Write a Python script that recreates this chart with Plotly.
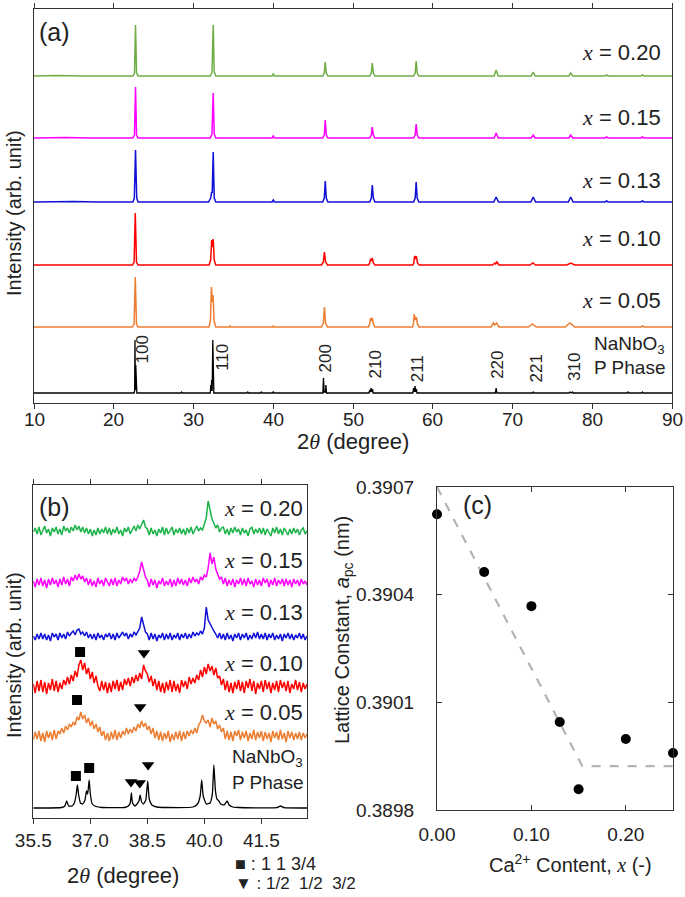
import plotly.graph_objects as go

W, H = 685, 897
FONT = "Liberation Sans, Arial, sans-serif"
TXT = "#222222"

# ---------------- Panel (a): XRD patterns 10-90 deg (height above own baseline) -------------
A_LABELS = ["x = 0.20", "x = 0.15", "x = 0.13", "x = 0.10", "x = 0.05"]
A_COLORS = ["#70ad47", "#ff00ff", "#1010d8", "#ff0000", "#ed7d31", "#000000"]
A_OFFSETS = [327, 265, 201, 138, 76, 10]
A_TICKS = [10, 20, 30, 40, 50, 60, 70, 80, 90]

A_020 = [(10, 0), (13, 0.5), (16, 0), (22.4, 0), (22.6, 3), (22.73, 51), (22.86, 3), (23.05, 0),
         (32.1, 0), (32.32, 4), (32.47, 51), (32.6, 4), (32.8, 0), (39.85, 0), (40.0, 2), (40.15, 0),
         (46.2, 0), (46.4, 3), (46.52, 14), (46.65, 3), (46.85, 0), (52.1, 0), (52.3, 3), (52.42, 13),
         (52.55, 3), (52.75, 0), (57.6, 0), (57.8, 3), (57.92, 15), (58.05, 3), (58.25, 0),
         (67.7, 0), (67.95, 6), (68.2, 0), (72.35, 0), (72.6, 4), (72.85, 0), (77.05, 0), (77.3, 3),
         (77.55, 0), (81.6, 0), (81.8, 1), (82.0, 0), (86.1, 0), (86.3, 1), (86.5, 0), (90, 0)]
A_015 = [(10, 0), (14, 0.5), (17, 0), (22.4, 0), (22.6, 3), (22.73, 51), (22.86, 3), (23.05, 0),
         (32.1, 0), (32.32, 4), (32.47, 45), (32.6, 4), (32.8, 0), (39.85, 0), (40.0, 2), (40.15, 0),
         (46.2, 0), (46.4, 3), (46.52, 18), (46.65, 3), (46.85, 0), (52.1, 0), (52.3, 3), (52.42, 11),
         (52.55, 3), (52.75, 0), (57.6, 0), (57.8, 3), (57.92, 14), (58.05, 3), (58.25, 0),
         (67.7, 0), (67.95, 5), (68.2, 0), (72.35, 0), (72.6, 3), (72.85, 0), (77.05, 0), (77.3, 3),
         (77.55, 0), (81.6, 0), (81.8, 1), (82.0, 0), (86.1, 0), (86.3, 1), (86.5, 0), (90, 0)]
A_013 = [(10, 0), (15, 0.5), (18, 0), (22.4, 0), (22.58, 4), (22.73, 52), (22.88, 4), (23.05, 0),
         (31.9, 0), (32.15, 4), (32.27, 10), (32.35, 9), (32.47, 50), (32.6, 4), (32.8, 0),
         (39.85, 0), (40.0, 2), (40.15, 0),
         (46.2, 0), (46.4, 4), (46.52, 21), (46.65, 4), (46.85, 0), (52.1, 0), (52.3, 4), (52.42, 17),
         (52.55, 4), (52.75, 0), (57.6, 0), (57.8, 4), (57.92, 20), (58.05, 4), (58.25, 0),
         (67.65, 0), (67.95, 5), (68.25, 0), (72.3, 0), (72.6, 5), (72.9, 0), (77.0, 0), (77.3, 5),
         (77.6, 0), (81.6, 0), (81.8, 1), (82.0, 0), (86.1, 0), (86.3, 1), (86.5, 0), (90, 0)]
A_010 = [(10, 0), (22.35, 0), (22.55, 3), (22.7, 52), (22.85, 3), (23.05, 0),
         (31.95, 0), (32.15, 5), (32.28, 25), (32.38, 18), (32.47, 26), (32.6, 5), (32.8, 0),
         (46.05, 0), (46.28, 3), (46.42, 13), (46.56, 3), (46.8, 0),
         (51.95, 0), (52.1, 2), (52.2, 6), (52.3, 4), (52.42, 7), (52.55, 2), (52.75, 0),
         (57.5, 0), (57.62, 2), (57.72, 9), (57.84, 6), (57.95, 9), (58.08, 2), (58.3, 0),
         (67.5, 0), (67.8, 2), (67.9, 1), (68.05, 3), (68.3, 0), (72.2, 0), (72.55, 2), (72.9, 0),
         (76.8, 0), (77.3, 2), (77.8, 0), (90, 0)]
A_005 = [(10, 0), (22.35, 0), (22.55, 3), (22.7, 50), (22.85, 3), (23.05, 0),
         (31.95, 0), (32.12, 6), (32.25, 40), (32.35, 25), (32.45, 32), (32.58, 6), (32.8, 0),
         (34.5, 0), (34.6, 1), (34.7, 0), (39.9, 0), (40.0, 1), (40.1, 0),
         (46.05, 0), (46.28, 4), (46.42, 20), (46.56, 4), (46.8, 0),
         (51.95, 0), (52.08, 3), (52.2, 9), (52.3, 6), (52.42, 9), (52.55, 3), (52.75, 0),
         (57.45, 0), (57.58, 3), (57.68, 13), (57.8, 7), (57.95, 10), (58.08, 3), (58.3, 0),
         (67.3, 0), (67.6, 4), (67.75, 2), (68.0, 4), (68.3, 0), (72.0, 0), (72.5, 3), (73.0, 0),
         (76.6, 0), (77.2, 4), (77.8, 0), (86.1, 0), (86.3, 1), (86.5, 0), (90, 0)]
A_REF = [(10, 0), (22.55, 0), (22.62, 2), (22.66, 53), (22.71, 3), (22.76, 28), (22.82, 1), (22.9, 0),
         (28.4, 0), (28.5, 1), (28.6, 0), (32.1, 0), (32.17, 8), (32.22, 2), (32.28, 13), (32.34, 2),
         (32.42, 53), (32.48, 1), (32.55, 0), (36.7, 0), (36.8, 1), (36.9, 0), (38.4, 0), (38.5, 1),
         (38.6, 0), (39.9, 0), (40.0, 1.5), (40.1, 0),
         (46.22, 0), (46.3, 15), (46.38, 1), (46.55, 1), (46.6, 8), (46.67, 0),
         (52.0, 0), (52.1, 3), (52.18, 1), (52.28, 5), (52.36, 1), (52.45, 4), (52.52, 0),
         (57.5, 0), (57.6, 5), (57.68, 1), (57.78, 7), (57.86, 1), (57.95, 4), (58.02, 0),
         (67.85, 0), (67.95, 5), (68.05, 0), (72.5, 0), (72.6, 1), (72.7, 0), (77.1, 0), (77.2, 1),
         (77.3, 0), (77.4, 0), (77.5, 1), (77.6, 0), (84.4, 0), (84.5, 1), (84.6, 0), (86.2, 0),
         (86.3, 1), (86.4, 0), (90, 0)]
A_PATTERNS = [A_020, A_015, A_013, A_010, A_005, A_REF]

MILLER = ["100", "110", "200", "210", "211", "220", "221", "310"]
MILLER_X = [23.6, 33.55, 46.55, 52.7, 58.05, 68.1, 73.0, 77.7]
MILLER_Y = [54, 46, 45, 38, 34, 38.5, 35, 36]

# ---------------- Panel (b): zoom 35.5-42.7 deg (step 0.05 deg) ----------------
B_X0, B_STEP = 35.5, 0.05
B_020 = [0, 4, -2, 5, -3, 2, 6, -1, 3, -4, 4, 0, 5, -2, 3, -3, 6, 1, 4, -1,
         5, 1, 7, 2, 6, 0, 5, -1, 4, -2, 3, -4, 2, -3, 4, -2, 3, -1, 5, -2,
         4, -3, 3, -1, 5, -2, 2, -4, 4, 0, 5, -2, 3, 6, 1, 7, 3, 8, 12, 5,
         3, -3, 4, -2, 2, -4, 3, -1, 5, -3, 4, -2, 2, 5, -3, 3, -1, 4, -2, 3,
         -3, 4, -1, 5, -2, 3, 6, 1, 4, 2, 7, 14, 31, 20, 13, 9, 4, 7, 0, 4,
         5, -2, 3, -3, 4, -1, 5, 0, 3, -3, 4, -1, 2, -4, 3, 5, -2, 3, -1, 4,
         -2, 4, -3, 3, 0, -4, 4, -1, 5, -2, 3, -3, 4, 0, -3, 3, -2, 4, -1, 3,
         -3, 2, 4, -2, 1]
B_015 = [2, -4, 4, -2, 5, -3, 3, -5, 4, -2, 5, -1, 3, -4, 4, -2, 6, -1, 4, -3,
         6, 2, 8, 3, 9, 4, 7, 1, 5, -2, 4, -3, 2, -4, 5, -1, 3, -3, 5, 0,
         -3, 4, -2, 5, -3, 3, -1, 6, 2, 5, -1, 4, 0, 5, 2, 6, 12, 21, 13, 6,
         3, -4, 4, -2, 3, -5, 2, -1, 5, -3, 2, -2, 4, -4, 3, -3, 5, -1, 4, -2,
         3, -3, 5, 0, 6, 1, 4, -1, 6, 3, 8, 6, 15, 30, 19, 26, 14, 9, 4, 6,
         -1, 5, -3, 3, -2, 4, -4, 3, -1, 5, -2, 4, -3, 5, -1, 2, -4, 4, -2, 3,
         -3, 5, 0, 4, -4, 3, -2, 5, -3, 3, -1, 4, -3, 4, -2, 3, -4, 4, -1, 3,
         -3, 4, -1, 2, -2]
B_013 = [1, -3, 3, -2, 4, -2, 3, -3, 2, -4, 4, 0, 3, -3, 4, -1, 3, -2, 5, 1,
         4, 6, 2, 7, 8, 3, 5, 1, 5, -1, 3, -2, 3, -3, 4, -1, 2, -3, 3, 0,
         4, -2, 3, -3, 4, -1, 2, 5, 1, 4, -2, 3, 0, 5, 2, 6, 9, 20, 13, 5,
         3, -3, 4, -2, 3, -4, 2, -1, 4, -3, 3, -2, 4, -3, 2, -1, 4, -3, 3, -1,
         4, -2, 3, -1, 5, 1, 4, 2, 6, 3, 9, 30, 17, 13, 9, 6, 3, -1, 4, -2,
         3, -3, 4, -2, 2, -4, 3, -1, 4, -3, 3, -1, 4, -3, 2, -2, 4, -1, 5, -2,
         3, -2, 4, -3, 3, -1, 4, -3, 2, -2, 3, -4, 3, -1, 4, -2, 3, -3, 2, -1,
         4, -2, 3, -3, 1]
B_010 = [3, -6, 6, -4, 7, -5, 5, -7, 4, -3, 8, -4, 6, -5, 4, -2, 7, 2, 10, 3,
         12, 6, 16, 10, 22, 27, 17, 24, 13, 19, 8, 15, 4, 11, 1, -4, 6, -3, 5, -6,
         4, -5, 6, -2, 7, -4, 5, -3, 8, 2, 9, 1, 10, 4, 12, 6, 14, 8, 22, 16,
         13, 5, 11, 1, 8, -3, 6, -5, 4, -6, 5, -3, 7, -5, 6, -4, 3, -6, 7, 0,
         6, -2, 10, 3, 9, 4, 12, 7, 17, 10, 20, 13, 23, 16, 21, 12, 19, 9, 11, 2,
         8, -3, 6, -5, 4, -6, 5, -2, 7, -4, 5, -6, 6, -1, 8, -4, 6, -7, 4, -2,
         6, -5, 7, -2, 5, -6, 4, -3, 6, -5, 7, -1, 5, -4, 6, -6, 3, -2, 7, -3,
         5, -5, 4, -2, 3]
B_005 = [-3, 5, -2, 6, -4, 4, -5, 6, -1, 5, -3, 7, -2, 6, 3, 9, 4, 11, 7, 13,
         10, 15, 12, 20, 17, 25, 18, 22, 14, 19, 11, 16, 8, 13, 5, 10, 1, 6, -3, 4,
         -4, 5, -2, 7, -3, 5, -1, 6, 2, 9, 3, 8, 4, 10, 6, 13, 9, 16, 10, 14,
         7, 11, 3, 9, -1, 6, -3, 5, -4, 4, -2, 6, -5, 3, -3, 5, -2, 6, -4, 5,
         -2, 6, 1, 7, 3, 9, 4, 12, 15, 22, 16, 14, 17, 10, 19, 13, 16, 8, 12, 5,
         9, -2, 6, -3, 5, -4, 6, 1, 7, -3, 5, -1, 6, -4, 4, -2, 7, -3, 5, -1,
         6, -4, 5, -2, 4, -5, 6, -1, 5, -3, 7, -2, 4, -5, 6, -1, 5, -3, 4, -2,
         5, -3, 4, -1, 3]
B_REF = [(35.5, 0), (36.25, 0.5), (36.33, 2), (36.38, 7), (36.43, 2), (36.52, 2), (36.58, 5),
         (36.63, 14), (36.66, 23), (36.69, 14), (36.74, 5), (36.8, 4), (36.86, 8), (36.9, 17),
         (36.93, 14), (36.97, 28), (37.0, 14), (37.05, 4), (37.15, 1.5), (37.3, 0.5), (37.9, 0.5),
         (38.0, 2), (38.05, 5), (38.08, 15), (38.11, 5), (38.17, 2), (38.23, 4), (38.28, 7),
         (38.31, 13), (38.35, 6), (38.4, 4), (38.46, 8), (38.51, 27), (38.55, 9), (38.62, 3),
         (38.75, 1), (39.0, 0.5), (39.7, 1), (39.82, 4), (39.89, 12), (39.93, 28), (39.97, 12),
         (40.05, 4), (40.15, 5), (40.21, 14), (40.25, 43), (40.29, 18), (40.33, 9), (40.38, 7),
         (40.43, 4), (40.52, 3), (40.6, 7), (40.65, 3), (40.75, 1), (40.9, 0.5), (41.9, 0.3),
         (42.0, 2), (42.1, 0.3), (42.7, 0)]
B_PATTERNS = [B_020, B_015, B_013, B_010, B_005]
B_COLORS = ["#1db34b", "#ff00ff", "#1010d8", "#ff0000", "#ed7d31"]
B_OFFSETS = [286, 235, 181, 131, 81, 10]
B_LABEL_Y = [310, 258, 206, 155, 106]

SQ_X = [36.62, 36.97, 36.73, 36.65]
SQ_Y = [42, 50, 166, 118]
TRI_X = [38.07, 38.30, 38.52, 38.41, 38.31]
TRI_Y = [36, 35, 53, 165, 111]

# ---------------- Panel (c): lattice constant ----------------
CA_X = [0.00, 0.05, 0.10, 0.13, 0.15, 0.20, 0.25]
A_PC = [0.390624, 0.390463, 0.390368, 0.390045, 0.389858, 0.389998, 0.389959]
FIT_X = [0.0, 0.154, 0.25]
FIT_Y = [0.3907, 0.389922, 0.389922]

fig = go.Figure()

# panel (a)
for pat, col, off in zip(A_PATTERNS, A_COLORS, A_OFFSETS):
    xs = [p[0] for p in pat]
    ys = [p[1] + off for p in pat]
    fig.add_trace(go.Scatter(x=xs, y=ys, mode="lines", line=dict(color=col, width=1.5 if col != "#000000" else 1.3),
                             xaxis="x", yaxis="y", showlegend=False, hoverinfo="skip"))

# panel (b)
bx = [round(B_X0 + i * B_STEP, 3) for i in range(len(B_020))]
for vals, col, off in zip(B_PATTERNS, B_COLORS, B_OFFSETS):
    fig.add_trace(go.Scatter(x=bx, y=[v + off for v in vals], mode="lines", line=dict(color=col, width=1.5),
                             xaxis="x2", yaxis="y2", showlegend=False, hoverinfo="skip"))
fig.add_trace(go.Scatter(x=[p[0] for p in B_REF], y=[p[1] + B_OFFSETS[5] for p in B_REF], mode="lines",
                         line=dict(color="#000000", width=1.3, shape="spline", smoothing=0.4),
                         xaxis="x2", yaxis="y2", showlegend=False, hoverinfo="skip"))
fig.add_trace(go.Scatter(x=SQ_X, y=SQ_Y, mode="markers", marker=dict(symbol="square", size=10, color="black"),
                         xaxis="x2", yaxis="y2", showlegend=False, hoverinfo="skip"))
fig.add_trace(go.Scatter(x=TRI_X, y=TRI_Y, mode="markers",
                         marker=dict(symbol="triangle-down", size=11, color="black"),
                         xaxis="x2", yaxis="y2", showlegend=False, hoverinfo="skip"))

# panel (c)
fig.add_trace(go.Scatter(x=FIT_X, y=FIT_Y, mode="lines", line=dict(color="#b4b4b4", width=2.2, dash="dash"),
                         xaxis="x3", yaxis="y3", showlegend=False, hoverinfo="skip"))
fig.add_trace(go.Scatter(x=CA_X, y=A_PC, mode="markers", marker=dict(color="black", size=10),
                         xaxis="x3", yaxis="y3", showlegend=False, hoverinfo="skip", cliponaxis=False))

def dom_x(a, b):
    return [a / W, b / W]

def dom_y(top, bottom):
    return [1 - bottom / H, 1 - top / H]

common = dict(showline=True, linecolor="#333333", linewidth=1.3, showgrid=False, zeroline=False,
              automargin=False, tickcolor="#333333", tickfont=dict(family=FONT, size=19, color=TXT))

fig.update_layout(
    width=W, height=H, margin=dict(l=0, r=0, t=0, b=0, pad=0, autoexpand=False),
    paper_bgcolor="white", plot_bgcolor="white", showlegend=False,
    font=dict(family=FONT, color=TXT),
    xaxis=dict(domain=dom_x(34, 672), range=[10, 90], tickvals=A_TICKS, ticks="outside",
               ticklen=5, tickwidth=1.2, mirror="ticks", anchor="y", showticklabels=False, **common),
    yaxis=dict(domain=dom_y(9, 403), range=[0, 394], showticklabels=False, ticks="", mirror=True,
               anchor="x", **common),
    xaxis2=dict(domain=dom_x(33.3, 307), range=[35.5, 42.7], tickvals=[35.5, 37.0, 38.5, 40.0, 41.5],
                ticktext=["35.5", "37.0", "38.5", "40.0", "41.5"], ticks="outside", ticklen=5,
                tickwidth=1.2, mirror="ticks", anchor="y2", ticklabelstandoff=0, **common),
    yaxis2=dict(domain=dom_y(485, 818), range=[0, 333], showticklabels=False, ticks="", mirror=True,
                anchor="x2", **common),
    xaxis3=dict(domain=dom_x(437, 673), range=[0, 0.25], tickvals=[0.0, 0.1, 0.2],
                ticktext=["0.00", "0.10", "0.20"], ticks="inside", ticklen=5, tickwidth=1.2,
                mirror="ticks", anchor="y3", ticklabelstandoff=7, **common),
    yaxis3=dict(domain=dom_y(487, 810), range=[0.3898, 0.3907],
                tickvals=[0.3898, 0.3901, 0.3904, 0.3907],
                ticktext=["0.3898", "0.3901", "0.3904", "0.3907"], ticks="inside", ticklen=5,
                tickwidth=1.2, mirror="ticks", anchor="x3", ticklabelstandoff=18, **common),
)

ann = []
XI = '<i><span style="font-family:Liberation Serif">x</span></i>'
TH = '<i><span style="font-family:Liberation Serif">θ</span></i>'

def px_ann(text, x, y, size, xanchor="center", yanchor="middle", angle=0):
    ann.append(dict(text=text, x=x / W, y=1 - y / H, xref="paper", yref="paper", showarrow=False,
                    xanchor=xanchor, yanchor=yanchor, textangle=angle,
                    font=dict(family=FONT, size=size, color=TXT)))

# panel (a) tick labels (placed close under the axis as in the reference)
for t in A_TICKS:
    ann.append(dict(text=str(t), x=t, y=1 - 419 / H, xref="x", yref="paper", xanchor="center",
                    yanchor="middle", showarrow=False, font=dict(family=FONT, size=19, color=TXT)))

# panel (a) labels
A_LABEL_Y = [350, 286, 223, 165, 103]
for lab, yy in zip(A_LABELS, A_LABEL_Y):
    ann.append(dict(text=XI + lab[1:], x=88.9, y=yy, xref="x", yref="y", xanchor="right", yanchor="middle",
                    showarrow=False, font=dict(family=FONT, size=22, color=TXT)))
ann.append(dict(text="NaNbO<sub>3</sub>", x=89.4, y=58, xref="x", yref="y", xanchor="right", yanchor="middle",
                showarrow=False, font=dict(family=FONT, size=19, color=TXT)))
ann.append(dict(text="P Phase", x=89.4, y=36, xref="x", yref="y", xanchor="right", yanchor="middle",
                showarrow=False, font=dict(family=FONT, size=19, color=TXT)))
for m, mx, my in zip(MILLER, MILLER_X, MILLER_Y):
    ann.append(dict(text=m, x=mx, y=my, xref="x", yref="y", xanchor="center", yanchor="middle",
                    textangle=-90, showarrow=False, font=dict(family=FONT, size=17, color=TXT)))
ann.append(dict(text="(a)", x=12.6, y=371, xref="x", yref="y", xanchor="center", yanchor="middle",
                showarrow=False, font=dict(family=FONT, size=25, color=TXT)))

# panel (b) labels
for lab, yy in zip(A_LABELS, B_LABEL_Y):
    ann.append(dict(text=XI + lab[1:], x=42.64, y=yy, xref="x2", yref="y2", xanchor="right",
                    yanchor="middle", showarrow=False, font=dict(family=FONT, size=22, color=TXT)))
ann.append(dict(text="NaNbO<sub>3</sub>", x=42.64, y=60, xref="x2", yref="y2", xanchor="right",
                yanchor="middle", showarrow=False, font=dict(family=FONT, size=19, color=TXT)))
ann.append(dict(text="P Phase", x=42.64, y=36, xref="x2", yref="y2", xanchor="right", yanchor="middle",
                showarrow=False, font=dict(family=FONT, size=19, color=TXT)))
ann.append(dict(text="(b)", x=36.07, y=311, xref="x2", yref="y2", xanchor="center", yanchor="middle",
                showarrow=False, font=dict(family=FONT, size=25, color=TXT)))

# panel (c) label
ann.append(dict(text="(c)", x=0.0424, y=0.39065, xref="x3", yref="y3", xanchor="center", yanchor="middle",
                showarrow=False, font=dict(family=FONT, size=25, color=TXT)))

# axis titles
px_ann("2" + TH + " (degree)", 353, 441, 22)
px_ann("Intensity (arb. unit)", 14, 213, 20, angle=-90)
px_ann("2" + TH + " (degree)", 123, 875, 22)
px_ann("Intensity (arb. unit)", 14, 655, 20, angle=-90)
px_ann("Lattice Constant, <i>a</i><sub>pc</sub> (nm)", 343, 630, 20, angle=-90)
px_ann("Ca<sup>2+</sup> Content, " + XI + " (-)", 570, 863, 20)
px_ann("■ : 1 1 3/4", 233, 864, 18, xanchor="left")
px_ann("▼ : 1/2  1/2  3/2", 233, 883, 17, xanchor="left")

fig.update_layout(annotations=ann)
fig.write_html("out.html", config={"displayModeBar": False},
               post_script="document.body.style.margin='0';document.body.style.padding='0';"
                           "document.body.style.overflow='hidden';")
